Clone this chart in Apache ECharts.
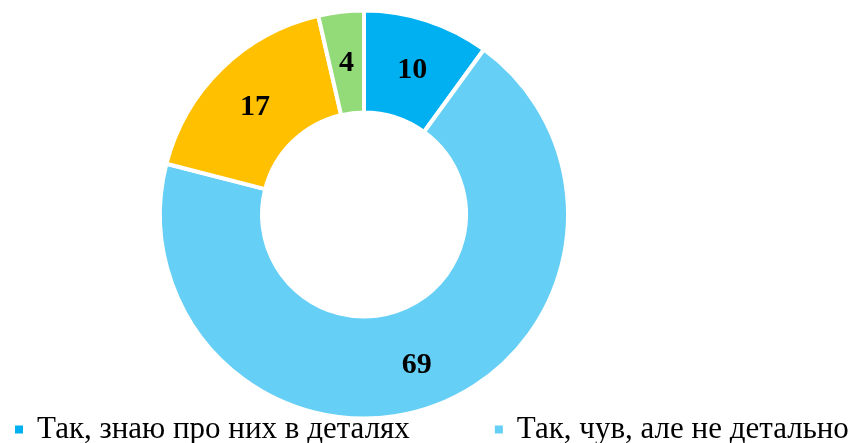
<!DOCTYPE html>
<html>
<head>
<meta charset="utf-8">
<script src="https://cdn.jsdelivr.net/npm/echarts@6/dist/echarts.min.js"></script>
<style>
html, body { margin: 0; padding: 0; background: #fff; }
#chart { width: 862px; height: 443px; }
</style>
</head>
<body>
<div id="chart"></div>
<script>
// categories and values (%), clockwise from 12 o'clock
const categories = ["Так, знаю про них в деталях", "Так, чув, але не детально", "Ні, не чув", "Важко відповісти"];
const values = [10, 69, 17.4, 3.6];
const colors = ["#00B0F0", "#66CFF5", "#FFC000", "#93DA78"];
// only the first two legend entries fit in the picture
const legendItems = categories.slice(0, 2);

const chart = echarts.init(document.getElementById("chart"));
const option = {
	animation: false,
	color: colors,
	legend: {
		data: legendItems,
		left: 8,
		top: 409,
		orient: "horizontal",
		icon: "rect",
		itemWidth: 10,
		itemHeight: 10,
		itemGap: 83,
		textStyle: {
			fontFamily: "Liberation Serif",
			fontSize: 31,
			color: "#000",
			padding: [0, 0, 0, 8],
		},
	},
	series: [
		{
			type: "pie",
			center: [364, 214.5],
			radius: [102, 204],
			startAngle: 90,
			clockwise: true,
			itemStyle: {
				borderColor: "#fff",
				borderWidth: 4,
			},
			label: {
				show: true,
				position: "inside",
				formatter: (p) => Math.round(p.value),
				fontFamily: "Liberation Serif",
				fontWeight: "bold",
				fontSize: 30,
				color: "#000",
				offset: [0, 4],
			},
			labelLine: { show: false },
			emphasis: { disabled: true },
			data: categories.map((name, i) => ({ name: name, value: values[i] })),
		},
	],
};
chart.setOption(option);
</script>
</body>
</html>
